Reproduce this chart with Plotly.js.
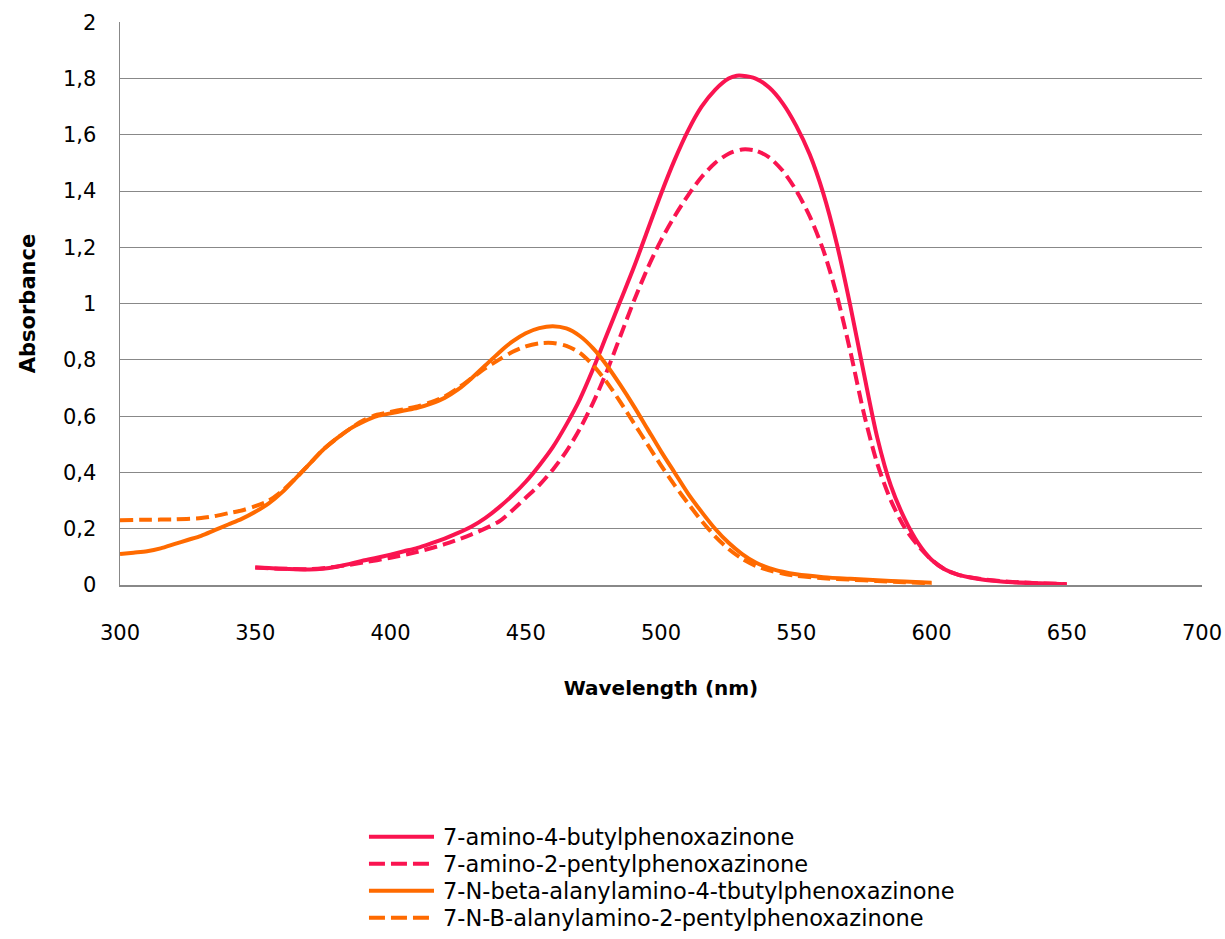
<!DOCTYPE html>
<html>
<head>
<meta charset="utf-8">
<script src="https://cdn.plot.ly/plotly-3.0.1.min.js"></script>
<style>html,body{margin:0;padding:0;background:#fff;}#chart{width:1225px;height:939px;}</style>
</head>
<body>
<div id="chart"></div>
<script>
// Series names
const seriesNames = [
  "7-amino-4-butylphenoxazinone",
  "7-amino-2-pentylphenoxazinone",
  "7-N-beta-alanylamino-4-tbutylphenoxazinone",
  "7-N-B-alanylamino-2-pentylphenoxazinone"
];

// 7-amino-4-butylphenoxazinone
const wlA1 = [350,355,360,365,370,375,380,385,390,395,400,405,410,415,420,425,430,435,440,445,450,455,460,465,470,475,480,485,490,495,500,505,510,515,520,525,528,530,535,540,545,550,555,560,565,570,575,580,585,590,595,600,605,610,620,630,640,650];
const absA1 = [0.062,0.060,0.058,0.056,0.055,0.058,0.065,0.075,0.087,0.097,0.108,0.120,0.132,0.148,0.165,0.185,0.208,0.238,0.275,0.318,0.367,0.425,0.490,0.570,0.660,0.770,0.890,1.010,1.130,1.260,1.390,1.510,1.615,1.700,1.760,1.800,1.810,1.810,1.800,1.768,1.712,1.632,1.530,1.392,1.212,0.992,0.752,0.522,0.352,0.237,0.150,0.090,0.055,0.036,0.018,0.010,0.006,0.003];

// 7-amino-2-pentylphenoxazinone
const wlA2 = [350,360,370,380,390,400,410,420,430,440,445,450,455,460,465,470,475,480,485,490,495,500,505,510,515,520,525,530,535,540,545,550,555,560,565,570,575,580,585,590,595,600,605,610,620,630,640,650];
const absA2 = [0.062,0.058,0.056,0.065,0.080,0.097,0.118,0.145,0.180,0.225,0.265,0.310,0.355,0.410,0.475,0.555,0.650,0.760,0.885,1.010,1.125,1.225,1.310,1.385,1.450,1.500,1.533,1.548,1.544,1.520,1.472,1.402,1.310,1.190,1.030,0.830,0.610,0.430,0.300,0.205,0.140,0.090,0.055,0.036,0.019,0.011,0.006,0.003];

// 7-N-beta-alanylamino-4-tbutylphenoxazinone
const wlB1 = [300,305,310,315,320,325,330,335,340,345,350,355,360,365,370,375,380,385,390,395,400,405,410,415,420,425,430,435,440,445,450,455,460,465,470,475,480,485,490,495,500,505,510,515,520,525,530,535,540,545,550,560,570,580,590,600];
const absB1 = [0.110,0.115,0.120,0.130,0.145,0.160,0.175,0.195,0.215,0.235,0.260,0.290,0.330,0.380,0.430,0.480,0.520,0.555,0.580,0.600,0.610,0.620,0.630,0.645,0.665,0.695,0.735,0.780,0.825,0.865,0.895,0.913,0.920,0.912,0.885,0.840,0.780,0.710,0.635,0.555,0.475,0.400,0.325,0.260,0.200,0.150,0.110,0.080,0.060,0.047,0.038,0.028,0.022,0.017,0.012,0.008];

// 7-N-B-alanylamino-2-pentylphenoxazinone
const wlB2 = [300,310,320,330,335,340,345,350,355,360,365,370,375,380,385,390,395,400,405,410,415,420,425,430,435,440,445,450,455,460,465,470,475,480,485,490,495,500,505,510,515,520,525,530,535,540,545,550,560,570,580,590,600];
const absB2 = [0.230,0.232,0.233,0.238,0.245,0.255,0.265,0.280,0.300,0.335,0.380,0.430,0.480,0.520,0.555,0.585,0.605,0.615,0.625,0.635,0.650,0.670,0.700,0.735,0.770,0.800,0.828,0.848,0.859,0.860,0.850,0.825,0.780,0.720,0.650,0.575,0.500,0.425,0.355,0.290,0.228,0.173,0.128,0.093,0.068,0.052,0.041,0.033,0.024,0.019,0.014,0.010,0.006];

// Axis ticks
const xTickVals = [300,350,400,450,500,550,600,650,700];
const xTickText = ["300","350","400","450","500","550","600","650","700"];
const yTickVals = [0,0.2,0.4,0.6,0.8,1,1.2,1.4,1.6,1.8,2];
const yTickText = ["0","0,2","0,4","0,6","0,8","1","1,2","1,4","1,6","1,8","2"];

const RED = "#FA1450";
const ORANGE = "#FF6A00";

const styles = [
  {color: RED, dash: "solid", legDash: "solid"},
  {color: RED, dash: "13px,6px", legDash: "16px,6px"},
  {color: ORANGE, dash: "solid", legDash: "solid"},
  {color: ORANGE, dash: "13px,6px", legDash: "16px,6px"}
];
const xs = [wlA1, wlA2, wlB1, wlB2];
const ys = [absA1, absA2, absB1, absB2];

const data = xs.map((x, i) => ({
  x: x, y: ys[i], name: seriesNames[i], type: "scatter", mode: "lines",
  line: {color: styles[i].color, width: 4, dash: styles[i].dash, shape: "spline", smoothing: 0.8},
  hoverinfo: "skip", showlegend: false
}));

const FONT = "DejaVu Sans, sans-serif";

// Legend drawn below the plot (paper coordinates)
const legRowY = [-0.447, -0.495, -0.543, -0.591];
const legX0 = 0.2301, legX1 = 0.2902, legTextX = 0.2967;
const shapes = [];
const annotations = [];
seriesNames.forEach((nm, i) => {
  shapes.push({type: "line", xref: "paper", yref: "paper",
    x0: legX0, x1: legX1, y0: legRowY[i], y1: legRowY[i],
    line: {color: styles[i].color, width: 4, dash: styles[i].legDash}});
  annotations.push({xref: "paper", yref: "paper", x: legTextX, y: legRowY[i],
    xanchor: "left", yanchor: "middle", showarrow: false, text: nm,
    font: {family: FONT, size: 22.5, color: "#000"}});
});

const layout = {
  width: 1225, height: 939,
  margin: {l: 120, r: 23, t: 22, b: 354},
  paper_bgcolor: "#ffffff", plot_bgcolor: "#ffffff",
  showlegend: false,
  font: {family: FONT, size: 21, color: "#000"},
  xaxis: {
    range: [300, 700], tickvals: xTickVals, ticktext: xTickText,
    showgrid: false, zeroline: false,
    showline: true, linecolor: "#888", linewidth: 1.5,
    ticks: "", ticklabelstandoff: 28,
    tickfont: {family: FONT, size: 21, color: "#000"},
    title: {text: "Wavelength (nm)", font: {family: FONT, size: 20, color: "#000", weight: "bold"}, standoff: 37},
    automargin: false
  },
  yaxis: {
    range: [0, 2.001], tickvals: yTickVals, ticktext: yTickText,
    showgrid: true, gridcolor: "#888", gridwidth: 1,
    zeroline: false,
    showline: true, linecolor: "#888", linewidth: 1.5,
    ticks: "", ticklabelstandoff: 18,
    tickfont: {family: FONT, size: 21, color: "#000"},
    title: {text: "Absorbance", font: {family: FONT, size: 21, color: "#000", weight: "bold"}, standoff: 21},
    automargin: false
  },
  shapes: shapes,
  annotations: annotations
};

Plotly.newPlot("chart", data, layout, {staticPlot: true, displayModeBar: false});
</script>
</body>
</html>
